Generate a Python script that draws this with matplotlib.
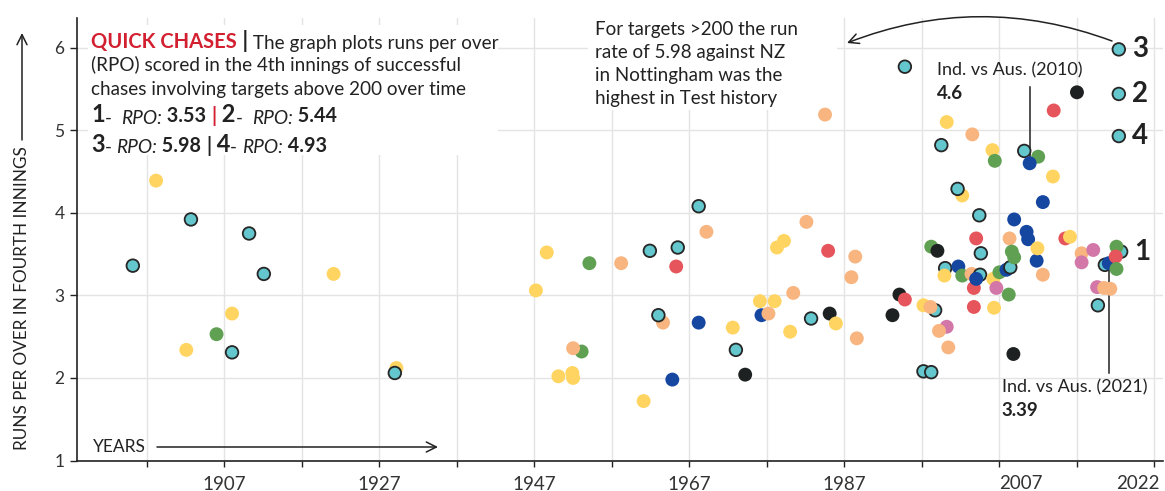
import matplotlib.pyplot as plt
from matplotlib.patches import Rectangle

plt.rcParams['font.family'] = ['Lato', 'DejaVu Sans']

# ---- data (year of chase, runs per over in 4th innings, team colour group)
years = [
    1895.2, 1898.2, 1902.1, 1902.7, 1906.0, 1908.0, 1908.0, 1910.2, 1912.1, 1921.1,
    1929.2, 1929.0, 1947.2, 1948.6, 1950.1, 1951.9, 1952.0, 1953.1, 1952.0, 1954.1,
    1958.2, 1961.1, 1961.9, 1963.6, 1963.0, 1964.8, 1965.3, 1965.5, 1968.2, 1968.2,
    1969.2, 1972.6, 1973.0, 1974.2, 1976.1, 1976.3, 1977.2, 1978.0, 1978.3, 1979.2,
    1980.0, 1980.4, 1982.1, 1982.7, 1984.5, 1984.9, 1985.1, 1985.9, 1987.9, 1988.4,
    1988.6, 1993.2, 1994.1, 1994.8, 1994.8, 1997.2, 1998.2, 1997.2, 1998.7, 1998.1,
    1998.2, 1999.0, 2000.2, 1999.2, 1999.5, 2000.0, 1999.9, 2000.2, 2000.4, 2002.2,
    2001.6, 2001.7, 2002.2, 2003.4, 2003.5, 2003.7, 2003.7, 2004.0, 2004.5, 2004.0,
    2004.4, 2004.6, 2006.1, 2006.2, 2006.3, 2006.4, 2006.6, 2007.0, 2007.9, 2008.4,
    2008.2, 2008.3, 2008.6, 2008.8, 2008.9, 2008.9, 2010.2, 2012.0, 2010.9, 2010.5,
    2010.7, 2011.8, 2011.9, 2012.6, 2012.6, 2013.9, 2014.0, 2015.5, 2016.1, 2017.0,
    2017.6, 2017.6, 2019.1, 2019.6, 2019.7, 2020.5, 2021.3, 2020.6, 2021.1, 2022.4,
    2022.4, 2022.4, 2022.7, 2022.1, 2022.0, 2022.1,
]
rpo = [
    3.36, 4.39, 2.34, 3.92, 2.53, 2.78, 2.31, 3.75, 3.26, 3.26,
    2.12, 2.06, 3.06, 3.52, 2.02, 2.06, 2.00, 2.32, 2.36, 3.39,
    3.39, 1.72, 3.54, 2.67, 2.76, 1.98, 3.35, 3.58, 4.08, 2.67,
    3.77, 2.61, 2.34, 2.04, 2.93, 2.76, 2.78, 2.93, 3.58, 3.66,
    2.56, 3.03, 3.89, 2.72, 5.19, 3.54, 2.78, 2.66, 3.22, 3.47,
    2.48, 2.76, 3.01, 2.95, 5.77, 2.08, 2.07, 2.88, 2.82, 2.86,
    3.59, 3.54, 2.62, 2.57, 4.82, 3.33, 3.24, 5.10, 2.37, 4.21,
    4.29, 3.35, 3.24, 3.26, 4.95, 3.09, 2.86, 3.69, 3.25, 3.20,
    3.97, 3.51, 4.76, 3.20, 2.85, 4.63, 3.09, 3.28, 3.31, 3.34,
    3.01, 3.69, 3.53, 2.29, 3.46, 3.92, 4.75, 4.68, 4.60, 3.77,
    3.68, 3.42, 3.57, 4.13, 3.25, 4.44, 5.24, 3.69, 3.71, 5.46,
    3.51, 3.40, 3.55, 3.10, 2.88, 3.09, 3.08, 3.37, 3.39, 5.98,
    5.44, 4.93, 3.53, 3.59, 3.47, 3.32,
]
team = [
    'T', 'Y', 'Y', 'T', 'G', 'Y', 'T', 'T', 'T', 'Y',
    'Y', 'T', 'Y', 'Y', 'Y', 'Y', 'Y', 'G', 'O', 'G',
    'O', 'Y', 'T', 'O', 'T', 'B', 'R', 'T', 'T', 'B',
    'O', 'Y', 'T', 'K', 'Y', 'B', 'O', 'Y', 'Y', 'Y',
    'Y', 'O', 'O', 'T', 'O', 'R', 'K', 'Y', 'O', 'O',
    'O', 'K', 'K', 'R', 'T', 'T', 'T', 'Y', 'T', 'O',
    'G', 'K', 'P', 'O', 'T', 'T', 'Y', 'Y', 'O', 'Y',
    'T', 'B', 'G', 'O', 'O', 'R', 'R', 'R', 'T', 'B',
    'T', 'T', 'Y', 'Y', 'Y', 'G', 'P', 'G', 'B', 'T',
    'G', 'O', 'G', 'K', 'G', 'B', 'T', 'G', 'B', 'B',
    'B', 'B', 'Y', 'B', 'O', 'Y', 'R', 'R', 'Y', 'K',
    'O', 'P', 'P', 'P', 'T', 'O', 'O', 'T', 'B', 'T',
    'T', 'T', 'T', 'G', 'R', 'G',
]

team_colors = {'T': '#63C7CD', 'Y': '#FFD460', 'O': '#F8B580', 'G': '#60A052',
               'R': '#E6545C', 'B': '#1546A0', 'K': '#1E2121', 'P': '#D277A7'}

# numbered England chases of 2022
marked_labels = ['3', '2', '4', '1']
marked_year = [2022.4, 2022.4, 2022.4, 2022.7]
marked_rpo = [5.98, 5.44, 4.93, 3.53]

x_ticks = list(range(1897, 2028, 10))
x_ticklabels = ['', '1907', '', '1927', '', '1947', '', '1967', '', '1987', '', '', '', '']
extra_year_labels = [2007, 2022]

W, H = 1165, 491
TXT = '#222222'

fig = plt.figure(figsize=(W / 100, H / 100), dpi=100)
ax = fig.add_axes([77 / W, (H - 460.5) / H, (1163 - 77) / W, (460.5 - 18) / H])

ax.set_xlim(1888.0, 2028.1)
ax.set_ylim(1, 6.36)
ax.set_xticks(x_ticks)
ax.set_xticklabels(x_ticklabels)
ax.set_yticks([1, 2, 3, 4, 5, 6])
ax.grid(True, color='#e4e4e4', lw=1)
ax.set_axisbelow(True)
for s in ['top', 'right']:
    ax.spines[s].set_visible(False)
for s in ['left', 'bottom']:
    ax.spines[s].set_color(TXT)
    ax.spines[s].set_linewidth(1.2)
ax.tick_params(axis='x', length=4, width=1, color=TXT, pad=7, labelsize=13.5, labelcolor='#333333')
ax.tick_params(axis='y', length=5, width=1, color=TXT, pad=4, labelsize=12.5, labelcolor='#333333')

for yr in extra_year_labels:
    ax.annotate(str(yr), xy=(yr, 0), xycoords=('data', 'axes fraction'),
                xytext=(0, -10.5), textcoords='offset points', ha='left', va='top',
                fontsize=13.5, color='#333333')

# white boxes behind the text blocks
for x0, y0, x1, y1 in [(88, 25, 498, 155), (588, 18, 837, 110)]:
    ax.add_patch(Rectangle((x0 / W, 1 - y1 / H), (x1 - x0) / W, (y1 - y0) / H,
                           transform=fig.transFigure, facecolor='white',
                           edgecolor='none', zorder=2))

# points
fc = [team_colors[t] for t in team]
ec = ['#262626' if t == 'T' else 'none' for t in team]
lw = [1.3 if t == 'T' else 0 for t in team]
sz = [82 if t == 'T' else 100 for t in team]
ax.scatter(years, rpo, s=sz, c=fc, edgecolors=ec, linewidths=lw, zorder=3)

for lab, yx, yv in zip(marked_labels, marked_year, marked_rpo):
    ax.annotate(lab, xy=(yx, yv), xytext=(9.5, 0), textcoords='offset points',
                ha='left', va='center', fontsize=20, fontweight='bold', color=TXT)

# Ind vs Aus callouts
ax.plot([2010.9, 2010.9], [4.62, 5.52], color=TXT, lw=1.1, zorder=2.5)
ax.text(1999.0, 5.73, 'Ind. vs Aus. (2010)', fontsize=13, color=TXT, va='center', zorder=4)
ax.text(1999.0, 5.45, '4.6', fontsize=13.5, fontweight='bold', color=TXT, va='center', zorder=4)
ax.plot([2021.1, 2021.1], [3.39, 2.06], color=TXT, lw=1.1, zorder=2.5)
ax.text(2007.3, 1.88, 'Ind. vs Aus. (2021)', fontsize=13, color=TXT, va='center', zorder=4)
ax.text(2007.3, 1.60, '3.39', fontsize=13.5, fontweight='bold', color=TXT, va='center', zorder=4)

# NZ annotation
nz_lines = ['For targets >200 the run', 'rate of 5.98 against NZ',
            'in Nottingham was the', 'highest in Test history']
for i, line in enumerate(nz_lines):
    fig.text(595 / W, 1 - (30 + i * 22.7) / H, line, fontsize=13.5, color=TXT, va='center')
ax.annotate('', xy=(847, H - 43), xytext=(1112, H - 41), xycoords='figure pixels',
            arrowprops=dict(arrowstyle='->', connectionstyle='arc3,rad=0.19', lw=1.1,
                            color=TXT, shrinkA=0, shrinkB=0, mutation_scale=18))

# axis titles with arrows
fig.text(22 / W, 1 - 298 / H, 'RUNS PER OVER IN FOURTH INNINGS', rotation=90,
         ha='center', va='center', fontsize=12.3, color=TXT)
ax.annotate('', xy=(22, H - 33), xytext=(22, H - 140), xycoords='figure pixels',
            arrowprops=dict(arrowstyle='->', lw=1.1, color=TXT, shrinkA=0, shrinkB=0,
                            mutation_scale=18))
fig.text(92.7 / W, 1 - 447 / H, 'YEARS', ha='left', va='center', fontsize=12.5, color=TXT)
ax.annotate('', xy=(438, H - 447), xytext=(157, H - 447), xycoords='figure pixels',
            arrowprops=dict(arrowstyle='->', lw=1.1, color=TXT, shrinkA=0, shrinkB=0,
                            mutation_scale=18))


# rich text header, pieces chained left to right
def rich_line(x_px, base_px, pieces):
    s, kw = pieces[0]
    t = fig.text(x_px / W, 1 - base_px / H, s, va='baseline', **kw)
    for s, kw in pieces[1:]:
        t = ax.annotate(s, xy=(1, 0), xycoords=t, va='bottom', **kw)


reg = dict(fontsize=13.6, color=TXT)
bold = dict(fontsize=14.2, color=TXT, fontweight='bold')
ital = dict(fontsize=13.8, color=TXT, style='italic')
big = dict(fontsize=17, color=TXT, fontweight='bold')
red_b = dict(fontsize=14.2, color='#D32030', fontweight='bold')

rich_line(91, 48, [('QUICK CHASES', dict(fontsize=14.5, color='#D32030', fontweight='bold')),
                   (' |', dict(fontsize=16, color=TXT, fontweight='bold')),
                   (' The graph plots runs per over', reg)])
fig.text(91 / W, 1 - 71.5 / H, '(RPO) scored in the 4th innings of successful', va='baseline', **reg)
fig.text(91 / W, 1 - 94.5 / H, 'chases involving targets above 200 over time', va='baseline', **reg)
rich_line(91, 122.5, [('1', big), ('-  ', reg), ('RPO:', ital), (' 3.53 ', bold), ('|', red_b),
                      (' 2', big), ('-  ', reg), ('RPO:', ital), (' 5.44', bold)])
rich_line(91, 151.5, [('3', big), ('- ', reg), ('RPO:', ital), (' 5.98 ', bold), ('|', bold),
                      (' 4', big), ('- ', reg), ('RPO:', ital), (' 4.93', bold)])

fig.savefig('out.png', dpi=100)
